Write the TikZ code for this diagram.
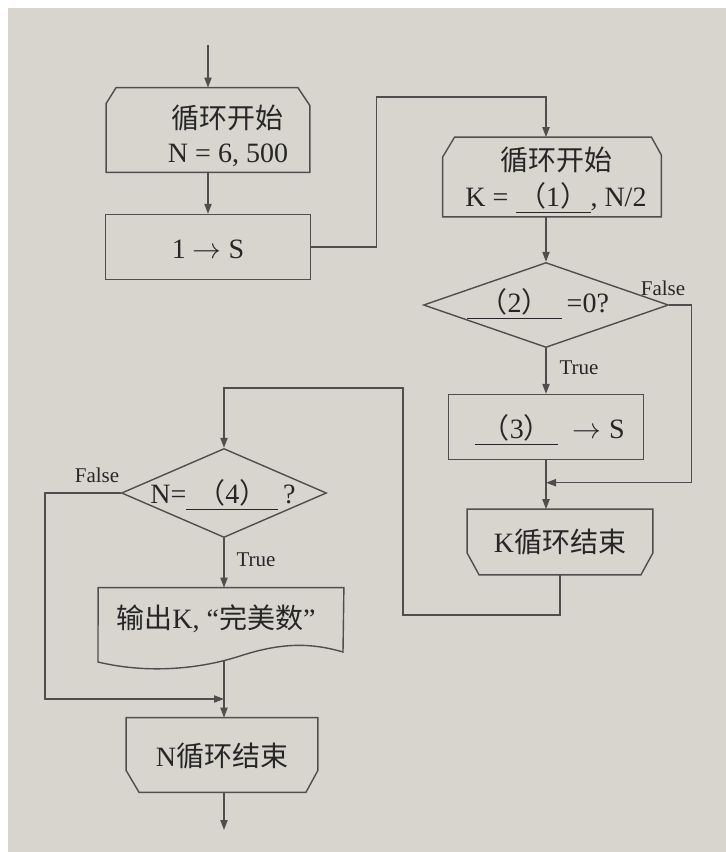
\documentclass[tikz,border=0pt]{standalone}
\usepackage{fontspec}
\setmainfont{Liberation Serif}
\newfontfamily\cjk{Noto Sans CJK SC}
\usetikzlibrary{arrows.meta,shapes.geometric,calc}
\definecolor{paper}{RGB}{216,213,206}
\definecolor{ink}{RGB}{78,78,76}
\definecolor{txt}{RGB}{38,38,38}
\begin{document}
\begin{tikzpicture}[x=0.5pt,y=-0.5pt,
  line/.style={draw=ink,line width=0.7pt},
  arr/.style={line,-{Triangle[length=5pt,width=3.6pt]}},
  frame/.style={draw=none,inner sep=0pt},
  diam/.style={shape=diamond,line,inner sep=0pt},
  every node/.style={text=txt,font=\fontsize{14}{16}\selectfont},
  lab/.style={font=\fontsize{10.5}{12}\selectfont,inner sep=1pt},
  txtnode/.style={align=center,inner sep=0pt}
]
% background
\fill[white] (0,0) rectangle (726,852);
\fill[paper] (8,8) rectangle (726,852);
\useasboundingbox (0,0) rectangle (726,852);

% ---------- nodes (frames) ----------
\node[frame,minimum width=101.5pt,minimum height=42pt] (nstart) at (208,130) {};
\node[frame,draw=ink,line width=0.7pt,minimum width=102.5pt,minimum height=32.5pt] (s1) at (208,247) {};
\node[frame,minimum width=109pt,minimum height=39.5pt] (kstart) at (552,177) {};
\node[diam,minimum width=122.5pt,minimum height=42.5pt] (d2) at (546,305) {};
\node[frame,draw=ink,line width=0.7pt,minimum width=97.5pt,minimum height=32.5pt] (s3) at (546,427) {};
\node[frame,minimum width=92.5pt,minimum height=32.5pt] (kend) at (560,542) {};
\node[diam,minimum width=102.5pt,minimum height=44.5pt] (d4) at (224,493) {};
\node[frame,minimum width=122.5pt,minimum height=37pt] (out) at (221,625) {};
\node[frame,minimum width=95.5pt,minimum height=37pt] (nend) at (222,755) {};

% ---------- outlines ----------
\draw[line] (nstart.south west) -- ($(nstart.north west)+(0,16)$) -- ($(nstart.north west)+(10,0)$)
  -- ($(nstart.north east)+(-12,0)$) -- ($(nstart.north east)+(0,18)$) -- (nstart.south east) -- cycle;
\draw[line] (kstart.south west) -- ($(kstart.north west)+(0,20)$) -- ($(kstart.north west)+(12,0)$)
  -- ($(kstart.north east)+(-10,0)$) -- ($(kstart.north east)+(0,18)$) -- (kstart.south east) -- cycle;
\draw[line] (kend.north west) -- ($(kend.south west)+(0,-22)$) -- ($(kend.south west)+(12,0)$)
  -- ($(kend.south east)+(-12,0)$) -- ($(kend.south east)+(0,-22)$) -- (kend.north east) -- cycle;
\draw[line] (nend.north west) -- ($(nend.south west)+(0,-22)$) -- ($(nend.south west)+(13,0)$)
  -- ($(nend.south east)+(-12,0)$) -- ($(nend.south east)+(0,-22)$) -- (nend.north east) -- cycle;
\draw[line] (out.north west) -- (out.north east) -- (343,652)
  .. controls (312,643) and (283,642) .. (240,656)
  .. controls (200,669) and (148,674) .. (98,662) -- cycle;

% ---------- texts ----------
\node[txtnode] (nstartT) at (228,136) {{\cjk 循环开始}\\[1pt]N = 6, 500};
\node[txtnode] (s1T) at (208,249) {1 $\rightarrow$ S};
\node[txtnode] (kstartT) at (556,180) {{\cjk 循环开始}\\[2pt]K = \underline{\makebox[37.5pt]{{\cjk （}1{\cjk ）}}}, N/2};
\node[txtnode] (d2T) at (538,304) {\underline{\makebox[47.5pt]{{\cjk （}2{\cjk ）}}}\,=0?};
\node[txtnode] (s3T) at (550,430) {\underline{\makebox[41.5pt]{{\cjk （}3{\cjk ）}}}\hspace{7pt}$\rightarrow$\hspace{4pt}S};
\node[txtnode] (kendT) at (560,542) {K{\cjk 循环结束}};
\node[txtnode] (d4T) at (223,495) {N=\underline{\makebox[46pt]{{\cjk （}4{\cjk ）}}}\,?};
\node[txtnode] (outT) at (216,619) {{\cjk 输出}K, “{\cjk 完美数}”};
\node[txtnode] (nendT) at (222,756) {N{\cjk 循环结束}};

% labels
\node[lab] (f2) at (663,288) {False};
\node[lab] (t2) at (579,368) {True};
\node[lab] (f4) at (97,475) {False};
\node[lab] (t4) at (256,560) {True};

% ---------- connectors ----------
\coordinate (top) at (208,45);
\coordinate (bot) at (224,830);
\draw[arr] (top) -- (nstart.north);
\draw[arr] (nstart.south) -- (s1.north);
\draw[arr] (s1.east) -- ++(65,0) |- ($(kstart.north -| d2.north)+(0,-40)$) -- (kstart.north -| d2.north);
\draw[arr] (kstart.south -| d2.north) -- (d2.north);
\draw[arr] (d2.south) -- (s3.north);
\coordinate (m2) at ($(s3.south)!0.46!(s3.south |- kend.north)$);
\draw[arr] (s3.south) -- (s3.south |- kend.north);
\draw[arr] (d2.east) -- ++(22,0) |- (m2);
\draw[arr] (kend.south) -- ++(0,40) -| (403,388) -| (d4.north);
\draw[arr] (d4.south) -- (out.north -| d4.south);
\coordinate (m4) at (224,699);
\draw[arr] (224,660) -- (nend.north -| d4.south);
\draw[arr] (d4.west) -- (45,493) |- (m4);
\draw[arr] (nend.south -| bot) -- (bot);
\end{tikzpicture}
\end{document}
